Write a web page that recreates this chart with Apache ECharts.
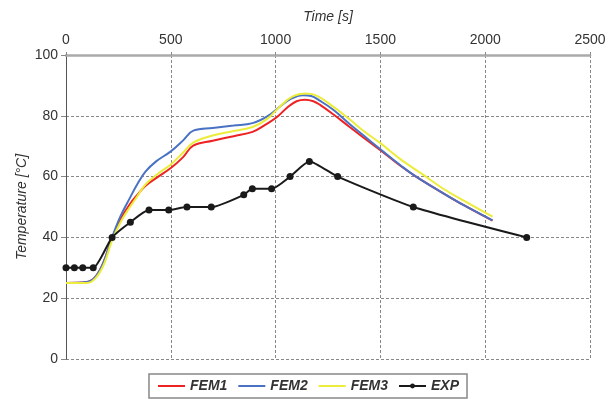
<!DOCTYPE html>
<html>
<head>
<meta charset="utf-8">
<script src="https://cdn.jsdelivr.net/npm/echarts@6/dist/echarts.min.js"></script>
<style>
  html, body { margin: 0; padding: 0; background: #fff; }
  #chart { width: 616px; height: 399px; }
</style>
</head>
<body>
<div id="chart"></div>
<script>
// [time s, temperature °C]
const fem1 = [[0,25],[100,25.3],[140,27],[180,32],[220,40],[260,46],[305,51],[340,54],[380,57],[440,60],[500,62.8],[560,66.5],[607,70.2],[700,71.8],[800,73.3],[890,74.7],[950,77],[1005,79.5],[1060,83],[1100,84.8],[1140,85.3],[1180,84.8],[1212,83.6],[1275,80.5],[1350,76.5],[1420,72.8],[1500,68.7],[1600,63.3],[1670,60],[1800,54.5],[1900,50.5],[2035,45.5]];
const fem2 = [[0,25],[100,25.3],[140,27],[180,32],[220,40],[260,47],[305,53],[340,57.5],[380,61.7],[430,65],[500,68.3],[560,72],[610,75.2],[700,76],[800,76.8],[890,77.6],[960,79.8],[1020,83],[1070,85.5],[1130,86.8],[1170,86.5],[1210,85],[1275,82],[1350,77.5],[1420,73.5],[1500,69],[1600,63.5],[1670,60],[1800,54.5],[1900,50.5],[2035,45.6]];
const fem3 = [[0,25],[100,25],[140,26.5],[180,31],[220,39],[260,45],[305,50],[340,53.5],[380,57.5],[440,61],[500,64],[560,68],[607,71.2],[700,73.5],[800,75],[890,76.3],[960,79],[1020,83],[1080,86.3],[1148,87.3],[1200,86.5],[1275,83],[1350,79],[1420,75],[1500,71],[1600,65.5],[1700,60.8],[1800,56],[1900,52],[2035,46.8]];
const exp = [[0,30],[40,30],[80,30],[130,30],[220,40],[307,45],[396,49],[490,49],[577,50],[693,50],[848,54],[889,56],[981,56],[1069,60],[1161,65],[1296,60],[1657,50],[2198,40]];

const font = 'Liberation Sans, Arial, sans-serif';
const gridLine = { show: true, lineStyle: { color: '#888', type: [3, 2], width: 1 } };

const chart = echarts.init(document.getElementById('chart'));

const lineSeries = (name, data, color) => ({
  name: name,
  type: 'line',
  data: data,
  smooth: 0.4,
  symbol: 'none',
  lineStyle: { color: color, width: 2 },
  itemStyle: { color: color }
});

// FEM legend entries: line only, no marker
const noMarker = { color: 'transparent', borderWidth: 0, opacity: 0 };

chart.setOption({
  animation: false,
  grid: { left: 66, right: 26, top: 55, bottom: 40 },
  legend: {
    bottom: 1,
    left: 'center',
    itemWidth: 27,
    itemHeight: 6,
    itemGap: 10,
    padding: [5, 8],
    borderColor: '#888',
    borderWidth: 1.5,
    textStyle: { fontFamily: font, fontSize: 14, fontStyle: 'italic', fontWeight: 'bold', color: '#333' },
    data: [
      { name: 'FEM1', itemStyle: noMarker },
      { name: 'FEM2', itemStyle: noMarker },
      { name: 'FEM3', itemStyle: noMarker },
      { name: 'EXP' }
    ]
  },
  xAxis: {
    type: 'value',
    position: 'top',
    min: 0,
    max: 2500,
    interval: 500,
    name: 'Time [s]',
    nameLocation: 'middle',
    nameGap: 31,
    nameMoveOverlap: false,
    nameTextStyle: { fontFamily: font, fontSize: 14, fontStyle: 'italic', color: '#333' },
    axisLine: { show: true, onZero: false, lineStyle: { color: '#aaa', width: 2.5 } },
    axisTick: { show: true, length: 4, lineStyle: { color: '#888', type: [3, 2] } },
    axisLabel: { fontFamily: font, fontSize: 14, color: '#333', margin: 8, formatter: v => String(v) },
    splitLine: gridLine
  },
  yAxis: {
    type: 'value',
    min: 0,
    max: 100,
    interval: 20,
    name: 'Temperature [°C]',
    nameLocation: 'middle',
    nameGap: 37,
    nameMoveOverlap: false,
    nameTextStyle: { fontFamily: font, fontSize: 14, fontStyle: 'italic', color: '#333' },
    axisLine: { show: true, lineStyle: { color: '#555', width: 1 } },
    axisTick: { show: true, length: 5, lineStyle: { color: '#888' } },
    axisLabel: { fontFamily: font, fontSize: 14, color: '#333', margin: 8 },
    splitLine: gridLine
  },
  series: [
    lineSeries('FEM1', fem1, '#ee2222'),
    lineSeries('FEM2', fem2, '#4a72c4'),
    lineSeries('FEM3', fem3, '#ecec3a'),
    {
      name: 'EXP',
      type: 'line',
      data: exp,
      smooth: 0.2,
      symbol: 'circle',
      symbolSize: 7,
      lineStyle: { color: '#1a1a1a', width: 2 },
      itemStyle: { color: '#1a1a1a' }
    }
  ]
});
</script>
</body>
</html>
